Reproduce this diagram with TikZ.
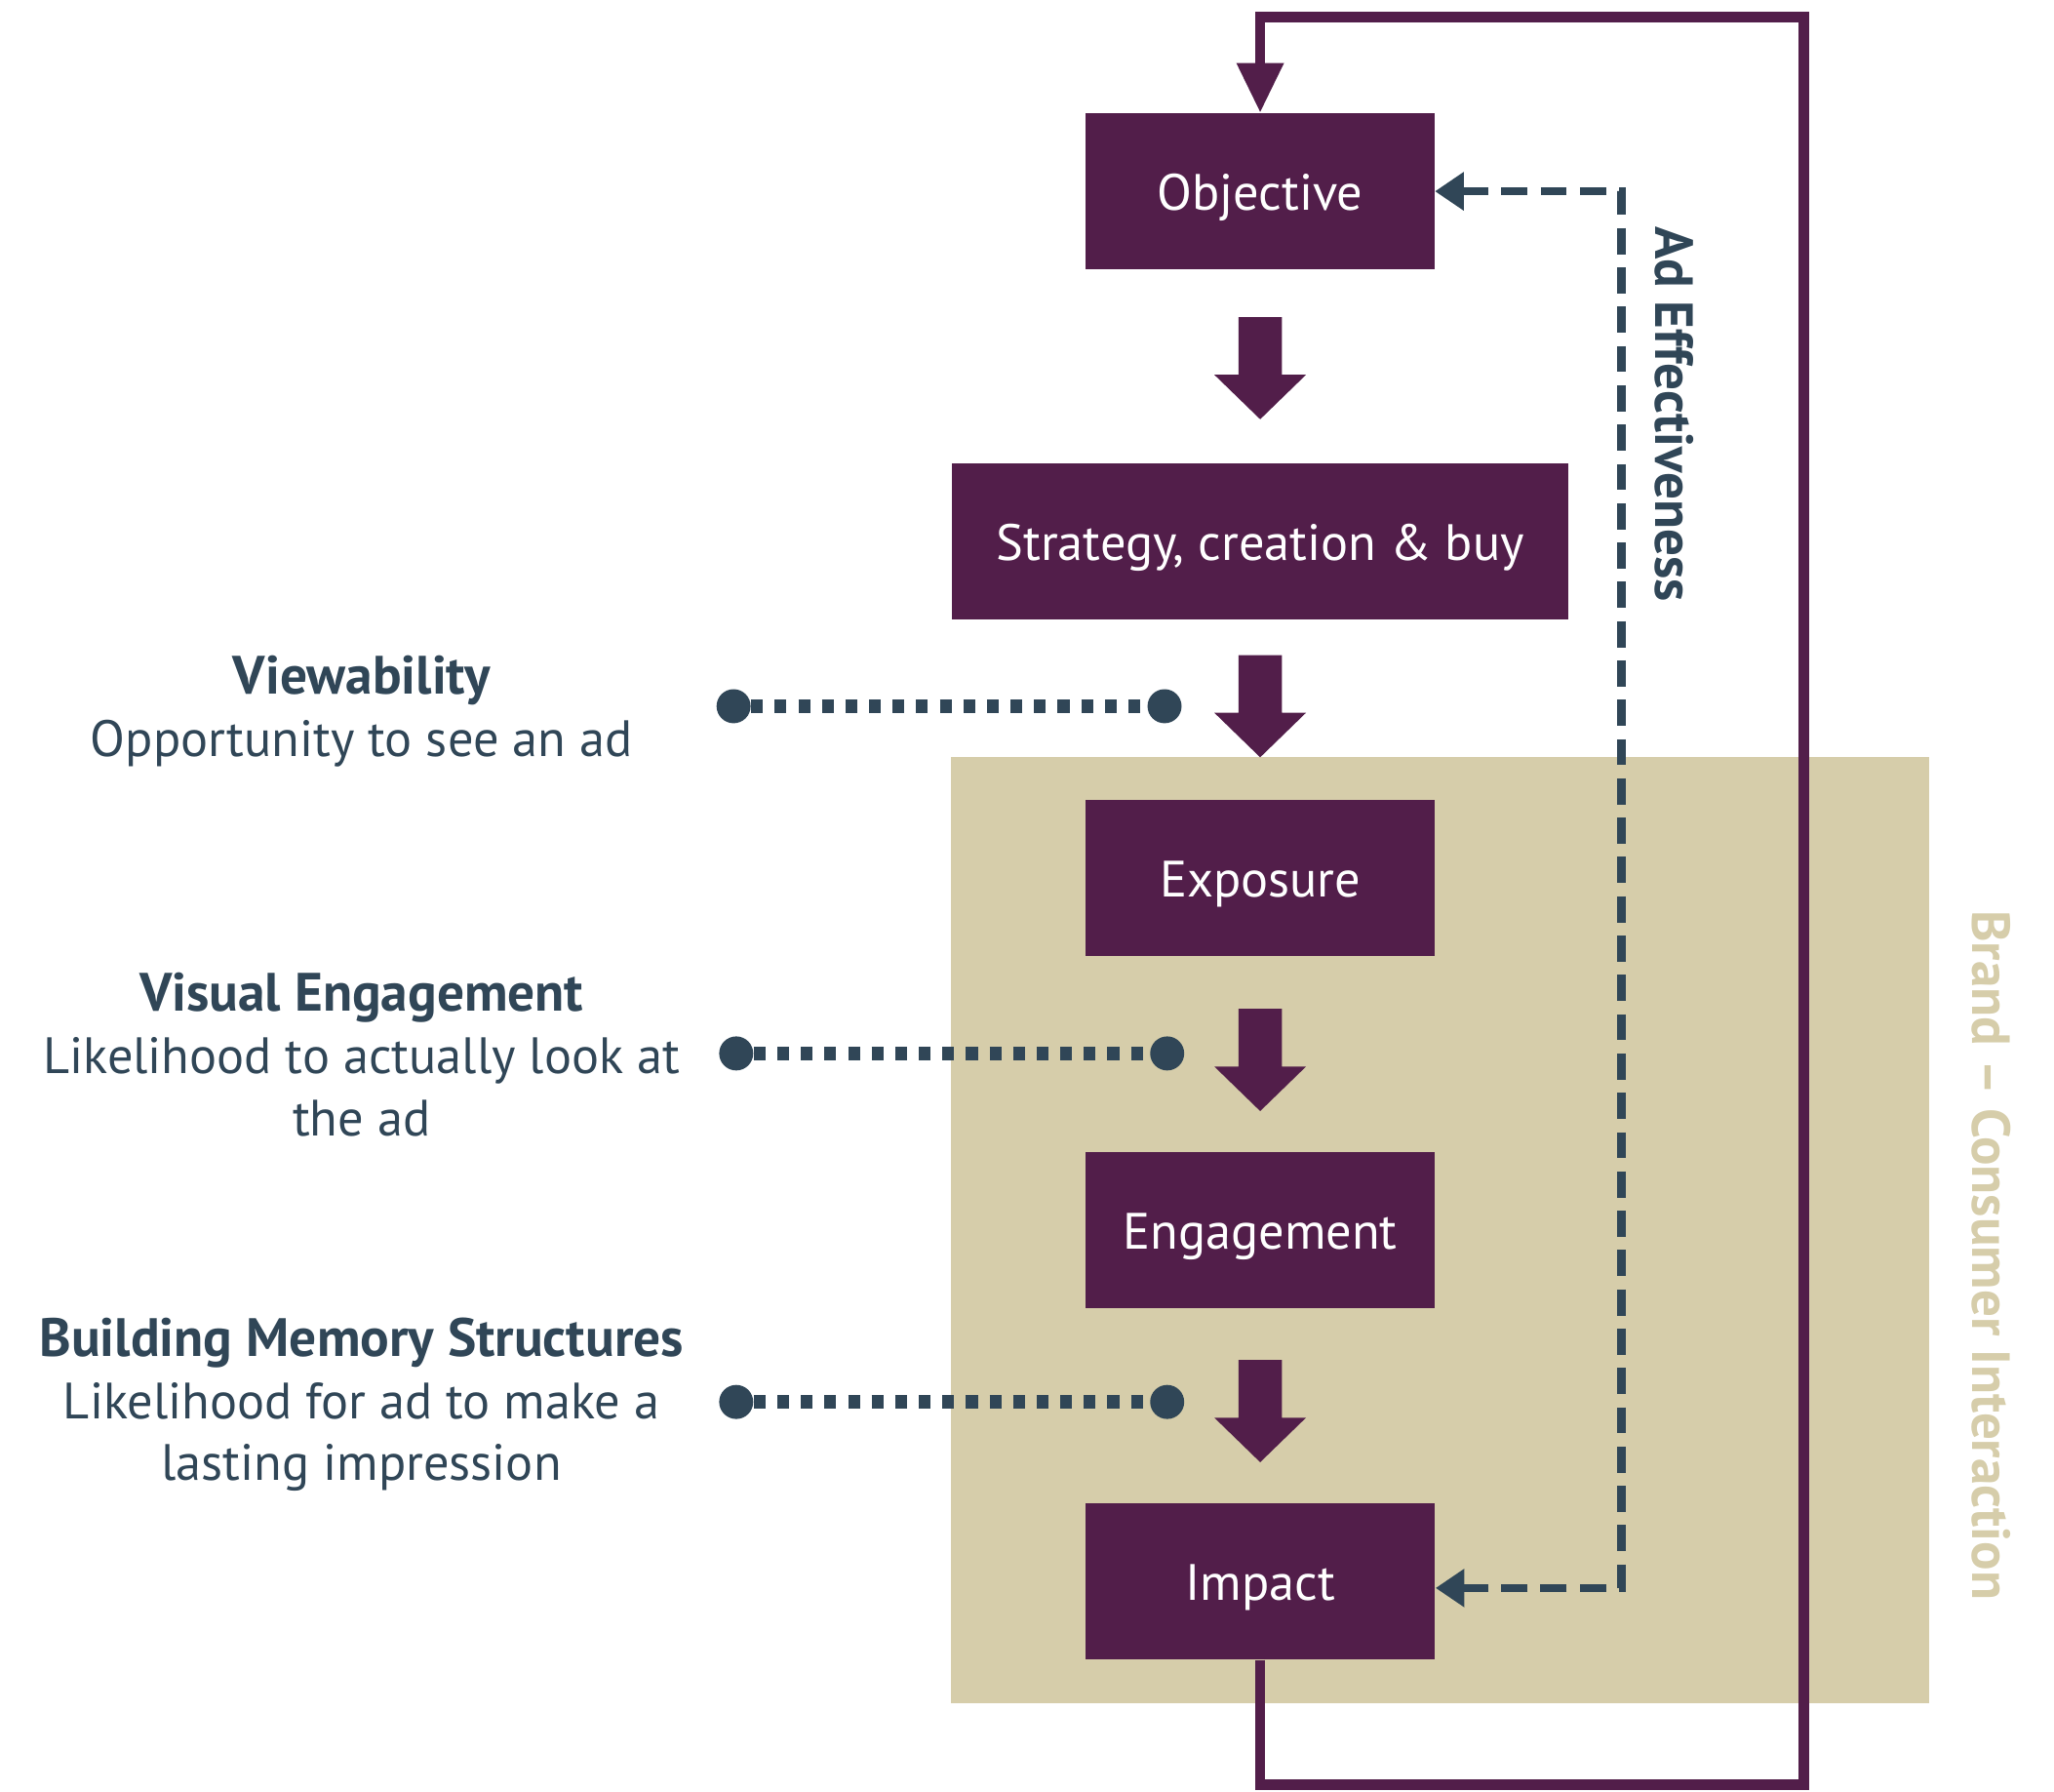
\documentclass[tikz,border=0pt]{standalone}
\usepackage{fontspec}
\setmainfont{PT Sans}
\usetikzlibrary{arrows.meta}
\definecolor{plum}{RGB}{82,30,74}
\definecolor{slate}{RGB}{48,70,87}
\definecolor{sand}{RGB}{214,205,170}
\newcommand{\headfont}{\bfseries\fontsize{20.6}{23.75}\selectfont}
\begin{document}
\begin{tikzpicture}[x=0.5pt,y=-0.5pt,
  stagebox/.style={fill=plum,text=white,minimum height=59.5pt,inner sep=0pt,
    text height=14.5pt,text depth=0pt,font=\fontsize{19.5}{23}\selectfont},
  blockarrow/.pic={\fill[plum] (-16.5,0) -- (16.5,0) -- (16.5,44) -- (35,44) -- (0,78) -- (-35,44) -- (-16.5,44) -- cycle;},
  loopline/.style={draw=plum,line width=4pt,line join=miter,-{Triangle[width=17pt,length=19pt]}},
  feedback/.style={draw=slate,line width=3.2pt,dash pattern=on 10pt off 5pt,{Triangle[width=14pt,length=11pt]}-{Triangle[width=14pt,length=11pt]}},
  dotlink/.style={draw=slate,line width=5pt,dash pattern=on 4.5pt off 4.5pt},
  enddot/.style={circle,fill=slate,minimum size=13pt,inner sep=0pt},
  measure/.style={text=slate,align=center,font=\fontsize{19.5}{23.75}\selectfont},
  sidelabel/.style={rotate=-90,font=\bfseries\fontsize{20.5}{23}\selectfont}]
\useasboundingbox (0,0) rectangle (1568,1367);
% consumer interaction zone
\fill[sand] (726,578) rectangle (1473,1300);
% stages
\node[stagebox,minimum width=133pt] (Objective) at (962,146) {Objective};
\node[stagebox,minimum width=235pt] (Strategy) at (962,413) {Strategy, creation \& buy};
\node[stagebox,minimum width=133.5pt] (Exposure) at (962,670) {Exposure};
\node[stagebox,minimum width=133.5pt] (Engagement) at (962,939) {Engagement};
\node[stagebox,minimum width=133.5pt] (Impact) at (962,1207) {Impact};
% block arrows
\pic at (962,242) {blockarrow};
\pic at (962,500) {blockarrow};
\pic at (962,770) {blockarrow};
\pic at (962,1038) {blockarrow};
% loop
\draw[loopline] (Impact.south) |- (1377,1362) -- (1377,13) -| (Objective.north);
% ad effectiveness feedback
\draw[feedback] (Objective.east) -- (1238,146) |- ([yshift=-2.5pt]Impact.east);
\node[sidelabel,text=slate] (adeff) at (1278,316) {Ad Effectiveness};
\node[sidelabel,text=sand] (brand) at (1520,958) {Brand – Consumer Interaction};
% measures
\node[measure] (view) at (276,543) {{\headfont Viewability}\\Opportunity to see an ad};
\node[measure] (visual) at (276,805) {{\headfont Visual Engagement}\\Likelihood to actually look at\\the ad};
\node[measure] (memory) at (276,1072) {{\headfont Building Memory Structures}\\Likelihood for ad to make a\\lasting impression};
% dotted links
\node[enddot] (v1) at (560,539) {};
\node[enddot] (v2) at (889,539) {};
\node[enddot] (e1) at (562,804) {};
\node[enddot] (e2) at (891,804) {};
\node[enddot] (m1) at (562,1070) {};
\node[enddot] (m2) at (891,1070) {};
\draw[dotlink] (v1) -- (v2);
\draw[dotlink] (e1) -- (e2);
\draw[dotlink] (m1) -- (m2);
\end{tikzpicture}
\end{document}
